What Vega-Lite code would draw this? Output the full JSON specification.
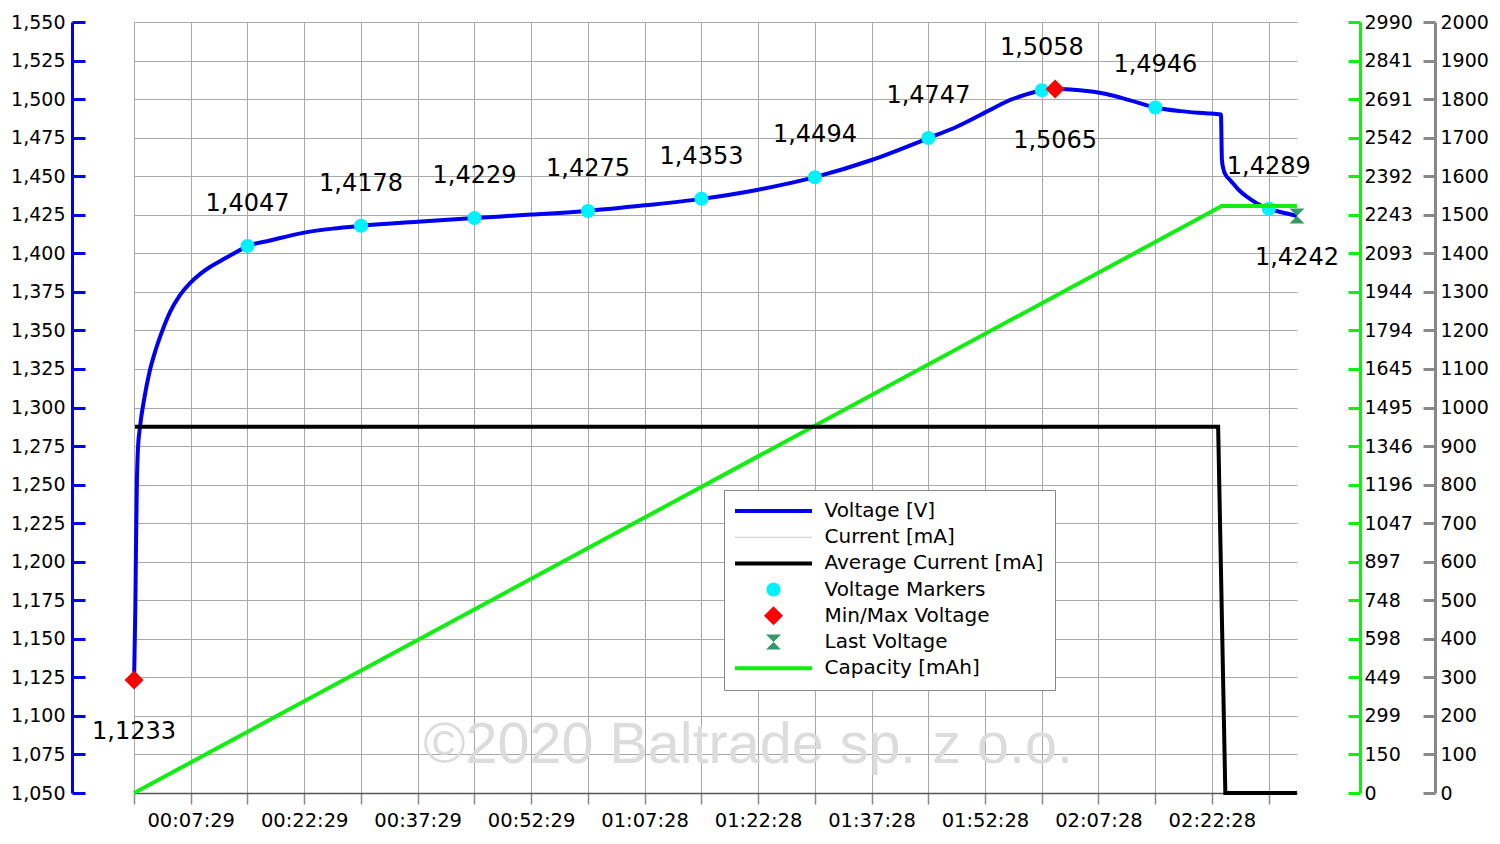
{
  "$schema": "https://vega.github.io/schema/vega-lite/v6.json",
  "width": 1163,
  "height": 771,
  "autosize": "none",
  "padding": {"left": 134, "top": 22, "right": 203, "bottom": 51},
  "background": "white",
  "config": {
    "view": {"stroke": null},
    "font": "DejaVu Sans",
    "locale": {"number": {"decimal": ",", "thousands": ".", "grouping": [3], "currency": ["", ""]}},
    "axis": {"labelFont": "DejaVu Sans", "labelFontSize": 19, "labelColor": "black", "labelOverlap": false, "labelSeparation": 0},
    "legend": {
      "labelFont": "DejaVu Sans", "labelFontSize": 20, "labelColor": "black", "labelLimit": 400,
      "symbolSize": 400, "symbolStrokeWidth": 0, "symbolOpacity": 1,
      "fillColor": "white", "strokeColor": "#888888", "padding": 11, "rowPadding": 6.2,
      "symbolOffset": 28.5, "labelOffset": 41, "cornerRadius": 0
    }
  },
  "datasets": {
    "voltage": [
      {"t": 0, "V": 1.1233}, {"t": 10, "V": 1.17}, {"t": 16, "V": 1.215}, {"t": 22, "V": 1.25},
      {"t": 30, "V": 1.272}, {"t": 47, "V": 1.2874}, {"t": 79, "V": 1.3049}, {"t": 126, "V": 1.3243},
      {"t": 166, "V": 1.336}, {"t": 214, "V": 1.3476}, {"t": 285, "V": 1.3619}, {"t": 364, "V": 1.3729},
      {"t": 444, "V": 1.3807}, {"t": 523, "V": 1.3865}, {"t": 602, "V": 1.3911}, {"t": 698, "V": 1.3956},
      {"t": 801, "V": 1.4004}, {"t": 900, "V": 1.4047}, {"t": 1078, "V": 1.4083},
      {"t": 1350, "V": 1.4134}, {"t": 1575, "V": 1.416}, {"t": 1800, "V": 1.4178},
      {"t": 2250, "V": 1.4205}, {"t": 2700, "V": 1.4229}, {"t": 3150, "V": 1.4251}, {"t": 3600, "V": 1.4275},
      {"t": 4050, "V": 1.4311}, {"t": 4500, "V": 1.4353}, {"t": 4940, "V": 1.4411}, {"t": 5400, "V": 1.4494},
      {"t": 5850, "V": 1.4605}, {"t": 6300, "V": 1.4747}, {"t": 6525, "V": 1.4821}, {"t": 6790, "V": 1.493},
      {"t": 6950, "V": 1.4995}, {"t": 7055, "V": 1.5025}, {"t": 7200, "V": 1.5058}, {"t": 7305, "V": 1.5065},
      {"t": 7500, "V": 1.5057}, {"t": 7700, "V": 1.5035}, {"t": 7900, "V": 1.4992}, {"t": 8100, "V": 1.4946},
      {"t": 8300, "V": 1.4922}, {"t": 8500, "V": 1.4908}, {"t": 8620, "V": 1.49}, {"t": 8628, "V": 1.4605},
      {"t": 8640, "V": 1.4545}, {"t": 8660, "V": 1.4505}, {"t": 8693, "V": 1.4475}, {"t": 8760, "V": 1.4412},
      {"t": 8825, "V": 1.4367}, {"t": 8910, "V": 1.4322}, {"t": 9000, "V": 1.4289}, {"t": 9100, "V": 1.4266},
      {"t": 9223, "V": 1.4242}
    ],
    "markers": [
      {"t": 900, "V": 1.4047, "series": "Voltage Markers"},
      {"t": 1800, "V": 1.4178, "series": "Voltage Markers"},
      {"t": 2700, "V": 1.4229, "series": "Voltage Markers"},
      {"t": 3600, "V": 1.4275, "series": "Voltage Markers"},
      {"t": 4500, "V": 1.4353, "series": "Voltage Markers"},
      {"t": 5400, "V": 1.4494, "series": "Voltage Markers"},
      {"t": 6300, "V": 1.4747, "series": "Voltage Markers"},
      {"t": 7200, "V": 1.5058, "series": "Voltage Markers"},
      {"t": 8100, "V": 1.4946, "series": "Voltage Markers"},
      {"t": 9000, "V": 1.4289, "series": "Voltage Markers"},
      {"t": 0, "V": 1.1233, "series": "Min/Max Voltage"},
      {"t": 7305, "V": 1.5065, "series": "Min/Max Voltage"},
      {"t": 9223, "V": 1.4242, "series": "Last Voltage"}
    ],
    "capacity": [
      {"t": 0, "mAh": 0}, {"t": 8627, "mAh": 2276}, {"t": 9223, "mAh": 2276}
    ],
    "current": [
      {"t": 8, "mA": 950}, {"t": 8598, "mA": 950}, {"t": 8655, "mA": 0}, {"t": 9223, "mA": 0}
    ]
  },
  "layer": [
    {
      "data": {"name": "voltage"},
      "mark": {"type": "line", "color": "#0000f0", "strokeWidth": 4, "interpolate": "monotone"},
      "encoding": {
        "x": {
          "field": "t", "type": "quantitative",
          "scale": {"domain": [-0.6, 9223.375], "nice": false, "zero": false},
          "axis": {
            "title": null,
            "values": [-0.6, 224.375, 449.35, 674.325, 899.3, 1124.275, 1349.25, 1574.225, 1799.2, 2024.175, 2249.15, 2474.125, 2699.1, 2924.075, 3149.05, 3374.025, 3599, 3823.975, 4048.95, 4273.925, 4498.9, 4723.875, 4948.85, 5173.825, 5398.8, 5623.775, 5848.75, 6073.725, 6298.7, 6523.675, 6748.65, 6973.625, 7198.6, 7423.575, 7648.55, 7873.525, 8098.5, 8323.475, 8548.45, 8773.425, 8998.4, 9223.375],
            "grid": true, "gridColor": "#a8a8a8", "gridWidth": 1,
            "domainColor": "#555555", "domainWidth": 1.5,
            "tickColor": "#888888", "tickWidth": 1.5, "tickSize": 11,
            "tickOpacity": {"condition": {"test": "round((datum.value+0.6)/224.975)%2==0", "value": 1}, "value": 0},
            "labelExpr": "round((datum.value+0.6)/224.975)%4==2 ? utcFormat(floor(datum.value)*1000, '%H:%M:%S') : ''",
            "labelFontSize": 19.5,
            "labelPadding": 7, "labelFlush": false, "labelOverlap": false, "labelBound": false
          }
        },
        "y": {
          "field": "V", "type": "quantitative",
          "scale": {"domain": [1.05, 1.55], "nice": false, "zero": false},
          "axis": {
            "title": null, "orient": "left", "offset": 62,
            "values": [1.05, 1.075, 1.1, 1.125, 1.15, 1.175, 1.2, 1.225, 1.25, 1.275, 1.3, 1.325, 1.35, 1.375, 1.4, 1.425, 1.45, 1.475, 1.5, 1.525, 1.55],
            "labelExpr": "replace(format(datum.value, '.3f'), '.', ',')",
            "grid": true, "gridColor": "#a8a8a8", "gridWidth": 1,
            "domainColor": "#0000f0", "domainWidth": 3,
            "tickColor": "#0000f0", "tickWidth": 3, "tickSize": -13,
            "labelPadding": 20, "labelOverlap": false, "labelSeparation": 0, "labelBound": false, "labelFlush": false
          }
        }
      }
    },
    {
      "data": {"values": [{}]},
      "mark": {"type": "text", "font": "Liberation Sans", "fontSize": 57.5, "color": "#dcdcdc", "align": "center", "baseline": "middle"},
      "encoding": {
        "x": {"datum": 4870, "type": "quantitative", "scale": {"domain": [-0.6, 9223.375], "nice": false, "zero": false}},
        "y": {"datum": 1.0805, "type": "quantitative", "scale": {"domain": [1.05, 1.55], "nice": false, "zero": false}, "axis": null},
        "text": {"value": "©2020 Baltrade sp. z o.o."}
      }
    },
    {
      "data": {"name": "markers"},
      "mark": {"type": "point", "filled": true, "opacity": 1, "size": 400, "strokeWidth": 0},
      "encoding": {
        "x": {"field": "t", "type": "quantitative", "scale": {"domain": [-0.6, 9223.375], "nice": false, "zero": false}},
        "y": {"field": "V", "type": "quantitative", "scale": {"domain": [1.05, 1.55], "nice": false, "zero": false}, "axis": null},
        "color": {
          "field": "series", "type": "nominal",
          "scale": {
            "domain": ["Voltage [V]", "Current [mA]", "Average Current [mA]", "Voltage Markers", "Min/Max Voltage", "Last Voltage", "Capacity [mAh]"],
            "range": ["#0000f0", "#cccccc", "#000000", "#00f2ff", "#ff0000", "#339966", "#11ee11"]
          },
          "legend": {"title": null, "orient": "none", "legendX": 590, "legendY": 468}
        },
        "shape": {
          "field": "series", "type": "nominal",
          "scale": {
            "domain": ["Voltage [V]", "Current [mA]", "Average Current [mA]", "Voltage Markers", "Min/Max Voltage", "Last Voltage", "Capacity [mAh]"],
            "range": [
              "M-3.85,-0.2H3.85V0.2H-3.85Z",
              "M-3.85,-0.05H3.85V0.05H-3.85Z",
              "M-3.85,-0.2H3.85V0.2H-3.85Z",
              "M-0.7,0A0.7,0.7,0,1,0,0.7,0A0.7,0.7,0,1,0,-0.7,0Z",
              "M0,-0.95L0.95,0L0,0.95L-0.95,0Z",
              "M-0.75,-0.75L0.75,-0.75L0,0L0.75,0.75L-0.75,0.75L0,0Z",
              "M-3.85,-0.2H3.85V0.2H-3.85Z"
            ]
          },
          "legend": {"title": null, "orient": "none", "legendX": 590, "legendY": 468}
        }
      }
    },
    {
      "data": {"name": "markers"},
      "transform": [{"filter": "datum.series == 'Voltage Markers'"}],
      "mark": {"type": "text", "fontSize": 24, "font": "DejaVu Sans", "color": "black", "align": "center", "baseline": "middle", "dy": -42},
      "encoding": {
        "x": {"field": "t", "type": "quantitative", "scale": {"domain": [-0.6, 9223.375], "nice": false, "zero": false}},
        "y": {"field": "V", "type": "quantitative", "scale": {"domain": [1.05, 1.55], "nice": false, "zero": false}, "axis": null},
        "text": {"field": "V", "type": "quantitative", "format": ".4f"}
      }
    },
    {
      "data": {"name": "markers"},
      "transform": [{"filter": "datum.series == 'Min/Max Voltage'"}],
      "mark": {"type": "text", "fontSize": 24, "font": "DejaVu Sans", "color": "black", "align": "center", "baseline": "middle", "dy": 52},
      "encoding": {
        "x": {"field": "t", "type": "quantitative", "scale": {"domain": [-0.6, 9223.375], "nice": false, "zero": false}},
        "y": {"field": "V", "type": "quantitative", "scale": {"domain": [1.05, 1.55], "nice": false, "zero": false}, "axis": null},
        "text": {"field": "V", "type": "quantitative", "format": ".4f"}
      }
    },
    {
      "data": {"name": "markers"},
      "transform": [{"filter": "datum.series == 'Last Voltage'"}],
      "mark": {"type": "text", "fontSize": 24, "font": "DejaVu Sans", "color": "black", "align": "center", "baseline": "middle", "dy": 42},
      "encoding": {
        "x": {"field": "t", "type": "quantitative", "scale": {"domain": [-0.6, 9223.375], "nice": false, "zero": false}},
        "y": {"field": "V", "type": "quantitative", "scale": {"domain": [1.05, 1.55], "nice": false, "zero": false}, "axis": null},
        "text": {"field": "V", "type": "quantitative", "format": ".4f"}
      }
    },
    {
      "data": {"name": "capacity"},
      "mark": {"type": "line", "color": "#11ee11", "strokeWidth": 4},
      "encoding": {
        "x": {"field": "t", "type": "quantitative", "scale": {"domain": [-0.6, 9223.375], "nice": false, "zero": false}},
        "y": {
          "field": "mAh", "type": "quantitative",
          "scale": {"domain": [0, 2990], "nice": false},
          "axis": {
            "title": null, "orient": "right", "offset": 63, "grid": false,
            "values": [0, 149.5, 299, 448.5, 598, 747.5, 897, 1046.5, 1196, 1345.5, 1495, 1644.5, 1794, 1943.5, 2093, 2242.5, 2392, 2541.5, 2691, 2840.5, 2990],
            "labelExpr": "'' + round(datum.value)",
            "domainColor": "#11ee11", "domainWidth": 3,
            "tickColor": "#11ee11", "tickWidth": 3, "tickSize": -12,
            "labelPadding": 16, "labelOverlap": false, "labelBound": false, "labelFlush": false
          }
        }
      }
    },
    {
      "data": {"name": "current"},
      "mark": {"type": "line", "color": "#000000", "strokeWidth": 4},
      "encoding": {
        "x": {"field": "t", "type": "quantitative", "scale": {"domain": [-0.6, 9223.375], "nice": false, "zero": false}},
        "y": {
          "field": "mA", "type": "quantitative",
          "scale": {"domain": [0, 2000], "nice": false},
          "axis": {
            "title": null, "orient": "right", "offset": 138, "grid": false,
            "values": [0, 100, 200, 300, 400, 500, 600, 700, 800, 900, 1000, 1100, 1200, 1300, 1400, 1500, 1600, 1700, 1800, 1900, 2000],
            "format": "d",
            "domainColor": "#888888", "domainWidth": 3,
            "tickColor": "#888888", "tickWidth": 3, "tickSize": -12,
            "labelPadding": 17, "labelOverlap": false, "labelBound": false, "labelFlush": false
          }
        }
      }
    }
  ],
  "resolve": {"scale": {"y": "independent"}}
}
